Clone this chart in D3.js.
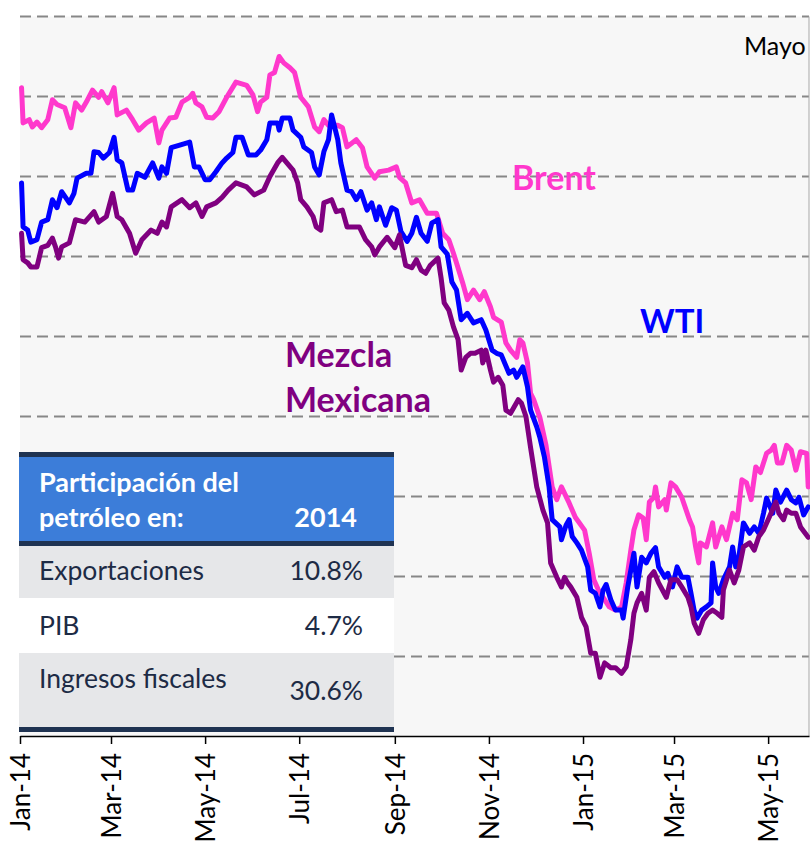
<!DOCTYPE html>
<html>
<head>
<meta charset="utf-8">
<script src="https://cdn.jsdelivr.net/npm/d3@7"></script>
<style>
  body { margin: 0; background: #fff; }
  text { font-family: Lato, "Open Sans", sans-serif; }
</style>
</head>
<body>
<div class="visholder"></div>
<script>
let width = 810,
    height = 844;

// precios diarios (USD por barril)
const brent = [
  ["2014-01-02",111.1],["2014-01-03",106.7],["2014-01-07",107.1],["2014-01-09",106.2],["2014-01-12",106.8],
  ["2014-01-15",106.1],["2014-01-19",107.1],["2014-01-22",109.6],["2014-01-25",109.0],["2014-01-30",108.6],
  ["2014-02-03",106.1],["2014-02-06",109.2],["2014-02-10",108.3],["2014-02-13",109.3],["2014-02-17",110.8],
  ["2014-02-21",109.9],["2014-02-23",110.6],["2014-02-27",109.2],["2014-03-03",111.1],["2014-03-05",107.7],
  ["2014-03-11",108.3],["2014-03-15",107.1],["2014-03-19",105.8],["2014-03-24",106.7],["2014-03-29",107.3],
  ["2014-04-01",104.2],["2014-04-03",105.8],["2014-04-08",107.3],["2014-04-12",107.4],["2014-04-16",109.3],
  ["2014-04-21",109.9],["2014-04-23",110.4],["2014-04-25",109.2],["2014-04-29",108.7],["2014-05-02",107.4],
  ["2014-05-06",107.3],["2014-05-10",108.1],["2014-05-15",109.9],["2014-05-21",111.8],["2014-05-28",111.4],
  ["2014-06-01",110.2],["2014-06-04",108.1],["2014-06-06",109.3],["2014-06-10",109.9],["2014-06-12",112.7],
  ["2014-06-15",113.0],["2014-06-18",115.0],["2014-06-21",114.2],["2014-06-25",113.6],["2014-06-28",113.0],
  ["2014-07-02",109.9],["2014-07-07",108.7],["2014-07-11",106.2],["2014-07-14",105.6],["2014-07-17",107.1],
  ["2014-07-20",106.4],["2014-07-26",106.4],["2014-07-29",106.1],["2014-08-01",103.7],["2014-08-07",104.6],
  ["2014-08-11",103.6],["2014-08-14",101.2],["2014-08-19",99.8],["2014-08-22",100.6],["2014-08-28",100.8],
  ["2014-09-02",101.2],["2014-09-04",99.9],["2014-09-08",99.2],["2014-09-12",96.7],["2014-09-17",97.1],
  ["2014-09-22",95.4],["2014-09-28",95.4],["2014-10-02",92.9],["2014-10-06",92.1],["2014-10-09",90.4],
  ["2014-10-11",89.2],["2014-10-15",86.7],["2014-10-18",84.6],["2014-10-22",85.8],["2014-10-26",84.6],
  ["2014-10-29",85.6],["2014-11-02",83.7],["2014-11-04",82.4],["2014-11-09",81.8],["2014-11-12",79.2],
  ["2014-11-15",78.3],["2014-11-19",77.4],["2014-11-21",79.6],["2014-11-23",79.2],["2014-11-26",76.7],
  ["2014-11-28",72.9],["2014-11-30",72.1],["2014-12-04",69.9],["2014-12-08",66.4],["2014-12-12",61.2],
  ["2014-12-15",59.6],["2014-12-18",61.2],["2014-12-23",59.2],["2014-12-27",57.4],["2015-01-02",55.8],
  ["2015-01-05",52.9],["2015-01-08",49.6],["2015-01-11",48.3],["2015-01-18",46.2],["2015-01-22",45.8],
  ["2015-01-26",46.2],["2015-01-29",49.2],["2015-02-01",53.3],["2015-02-03",55.8],["2015-02-06",57.7],
  ["2015-02-09",57.3],["2015-02-11",54.6],["2015-02-13",59.3],["2015-02-16",59.9],["2015-02-17",61.2],
  ["2015-02-19",58.7],["2015-02-23",59.6],["2015-02-24",58.3],["2015-02-27",61.7],["2015-03-02",61.2],
  ["2015-03-06",59.9],["2015-03-11",57.1],["2015-03-13",56.2],["2015-03-15",53.7],["2015-03-17",51.7],
  ["2015-03-18",54.2],["2015-03-22",53.7],["2015-03-26",56.7],["2015-03-28",53.7],["2015-04-01",56.2],
  ["2015-04-04",54.6],["2015-04-08",57.9],["2015-04-11",57.1],["2015-04-14",62.1],["2015-04-17",61.7],
  ["2015-04-20",59.6],["2015-04-23",63.7],["2015-04-26",63.0],["2015-04-30",65.4],["2015-05-03",65.8],
  ["2015-05-05",66.4],["2015-05-07",64.2],["2015-05-10",64.2],["2015-05-13",66.4],["2015-05-16",65.8],
  ["2015-05-19",63.3],["2015-05-22",65.6],["2015-05-26",65.4],["2015-05-27",61.2]
];

const wti = [
  ["2014-01-02",99.2],["2014-01-03",93.7],["2014-01-06",93.3],["2014-01-08",91.8],["2014-01-12",92.1],
  ["2014-01-15",94.3],["2014-01-19",94.6],["2014-01-22",97.1],["2014-01-25",96.1],["2014-01-28",98.1],
  ["2014-02-02",96.7],["2014-02-05",97.9],["2014-02-07",99.8],["2014-02-13",100.4],["2014-02-16",100.4],
  ["2014-02-18",103.1],["2014-02-21",103.0],["2014-02-24",102.3],["2014-02-28",103.0],["2014-03-03",104.9],
  ["2014-03-05",102.1],["2014-03-08",101.7],["2014-03-12",98.3],["2014-03-15",98.3],["2014-03-18",100.4],
  ["2014-03-23",99.9],["2014-03-28",101.7],["2014-04-01",99.8],["2014-04-03",101.2],["2014-04-06",100.4],
  ["2014-04-09",103.6],["2014-04-14",103.9],["2014-04-21",104.3],["2014-04-24",101.2],["2014-04-27",101.2],
  ["2014-05-01",99.6],["2014-05-04",99.6],["2014-05-08",100.6],["2014-05-12",101.7],["2014-05-15",102.3],
  ["2014-05-19",103.0],["2014-05-21",104.9],["2014-05-25",104.9],["2014-05-29",102.7],["2014-06-03",102.7],
  ["2014-06-06",103.3],["2014-06-10",104.6],["2014-06-12",106.7],["2014-06-17",106.7],["2014-06-18",105.8],
  ["2014-06-20",107.3],["2014-06-25",107.3],["2014-06-27",105.8],["2014-07-02",104.9],["2014-07-04",103.7],
  ["2014-07-09",103.0],["2014-07-11",101.2],["2014-07-14",100.2],["2014-07-17",103.1],["2014-07-20",104.6],
  ["2014-07-22",107.7],["2014-07-26",104.6],["2014-07-28",101.7],["2014-08-01",98.3],["2014-08-04",98.1],
  ["2014-08-07",97.1],["2014-08-10",98.1],["2014-08-14",95.8],["2014-08-17",96.7],["2014-08-20",94.6],
  ["2014-08-22",96.2],["2014-08-26",93.9],["2014-08-30",96.1],["2014-09-02",95.8],["2014-09-05",93.1],
  ["2014-09-09",91.9],["2014-09-12",92.9],["2014-09-15",94.9],["2014-09-18",92.9],["2014-09-22",91.9],
  ["2014-09-25",94.2],["2014-09-29",94.6],["2014-10-01",91.2],["2014-10-05",90.3],["2014-10-08",86.8],
  ["2014-10-11",85.8],["2014-10-14",82.1],["2014-10-18",82.9],["2014-10-22",81.7],["2014-10-27",82.1],
  ["2014-10-30",80.8],["2014-11-03",78.3],["2014-11-06",77.9],["2014-11-09",77.7],["2014-11-14",75.4],
  ["2014-11-17",75.8],["2014-11-19",74.9],["2014-11-23",76.2],["2014-11-26",73.7],["2014-11-28",70.8],
  ["2014-12-02",68.7],["2014-12-04",67.4],["2014-12-07",64.9],["2014-12-10",61.2],["2014-12-12",57.1],
  ["2014-12-17",56.2],["2014-12-18",54.6],["2014-12-21",56.4],["2014-12-23",57.1],["2014-12-25",55.0],
  ["2014-12-28",54.2],["2014-12-31",53.3],["2015-01-04",51.2],["2015-01-06",48.3],["2015-01-09",47.9],
  ["2015-01-12",46.2],["2015-01-14",48.3],["2015-01-16",49.0],["2015-01-19",47.1],["2015-01-22",45.8],
  ["2015-01-26",45.8],["2015-01-27",44.8],["2015-01-30",48.7],["2015-02-03",52.9],["2015-02-05",48.7],
  ["2015-02-08",52.4],["2015-02-11",51.7],["2015-02-14",52.9],["2015-02-17",53.6],["2015-02-19",51.2],
  ["2015-02-23",49.9],["2015-02-25",50.4],["2015-02-28",48.7],["2015-03-03",51.2],["2015-03-06",49.9],
  ["2015-03-10",49.9],["2015-03-12",47.9],["2015-03-14",45.8],["2015-03-16",44.8],["2015-03-19",45.8],
  ["2015-03-22",46.2],["2015-03-25",46.7],["2015-03-26",51.7],["2015-03-28",48.7],["2015-03-30",47.9],
  ["2015-04-02",49.6],["2015-04-06",51.2],["2015-04-08",53.7],["2015-04-10",51.2],["2015-04-12",52.4],
  ["2015-04-15",56.7],["2015-04-19",55.4],["2015-04-22",56.2],["2015-04-25",55.4],["2015-04-28",57.9],
  ["2015-04-30",59.8],["2015-05-04",57.9],["2015-05-06",60.8],["2015-05-09",59.3],["2015-05-13",60.8],
  ["2015-05-16",59.6],["2015-05-19",59.2],["2015-05-21",59.9],["2015-05-24",57.7],["2015-05-27",58.7]
];

const mezcla = [
  ["2014-01-02",92.9],["2014-01-03",89.6],["2014-01-06",89.2],["2014-01-08",88.7],["2014-01-12",88.7],
  ["2014-01-15",91.1],["2014-01-19",91.4],["2014-01-22",92.3],["2014-01-24",91.2],["2014-01-26",89.8],
  ["2014-01-28",91.2],["2014-02-02",91.7],["2014-02-06",94.6],["2014-02-12",94.3],["2014-02-18",95.6],
  ["2014-02-21",94.3],["2014-02-26",95.0],["2014-03-02",97.9],["2014-03-05",95.0],["2014-03-08",94.6],
  ["2014-03-13",92.9],["2014-03-17",90.4],["2014-03-21",92.1],["2014-03-27",93.3],["2014-03-31",92.9],
  ["2014-04-03",94.3],["2014-04-06",93.7],["2014-04-09",96.2],["2014-04-16",97.1],["2014-04-21",96.1],
  ["2014-04-25",96.7],["2014-04-29",95.0],["2014-05-02",96.2],["2014-05-08",96.7],["2014-05-12",97.4],
  ["2014-05-16",98.3],["2014-05-21",99.2],["2014-05-28",98.7],["2014-06-02",97.7],["2014-06-08",98.3],
  ["2014-06-12",100.0],["2014-06-17",101.7],["2014-06-20",102.4],["2014-06-23",101.7],["2014-06-27",100.8],
  ["2014-06-30",99.2],["2014-07-02",97.1],["2014-07-06",96.2],["2014-07-10",95.0],["2014-07-12",93.7],
  ["2014-07-15",93.3],["2014-07-17",96.7],["2014-07-22",97.1],["2014-07-25",95.6],["2014-07-29",95.8],
  ["2014-08-01",93.7],["2014-08-04",93.7],["2014-08-09",93.7],["2014-08-13",92.1],["2014-08-17",91.2],
  ["2014-08-19",90.2],["2014-08-22",91.2],["2014-08-27",92.4],["2014-09-01",91.1],["2014-09-04",92.7],
  ["2014-09-08",88.9],["2014-09-12",88.6],["2014-09-15",89.6],["2014-09-18",88.3],["2014-09-21",87.9],
  ["2014-09-24",88.9],["2014-09-29",89.8],["2014-10-01",87.3],["2014-10-03",84.2],["2014-10-06",83.3],
  ["2014-10-09",81.2],["2014-10-12",79.6],["2014-10-14",75.8],["2014-10-17",77.4],["2014-10-20",77.9],
  ["2014-10-23",77.9],["2014-10-27",78.3],["2014-10-28",76.7],["2014-10-30",78.3],["2014-11-02",75.8],
  ["2014-11-04",74.3],["2014-11-07",74.9],["2014-11-10",73.9],["2014-11-12",70.8],["2014-11-15",70.4],
  ["2014-11-20",72.1],["2014-11-22",71.7],["2014-11-25",70.0],["2014-11-28",66.1],["2014-12-02",61.2],
  ["2014-12-06",58.3],["2014-12-09",56.7],["2014-12-11",51.7],["2014-12-15",49.9],["2014-12-18",48.7],
  ["2014-12-20",49.9],["2014-12-22",49.2],["2014-12-24",48.7],["2014-12-28",47.4],["2014-12-31",44.9],
  ["2015-01-03",43.7],["2015-01-06",40.4],["2015-01-09",40.4],["2015-01-12",37.4],["2015-01-15",39.2],
  ["2015-01-19",38.6],["2015-01-22",38.6],["2015-01-26",37.9],["2015-01-29",38.7],["2015-02-01",42.1],
  ["2015-02-03",45.4],["2015-02-05",46.7],["2015-02-08",47.9],["2015-02-11",45.8],["2015-02-13",49.9],
  ["2015-02-16",50.6],["2015-02-19",49.2],["2015-02-24",47.4],["2015-02-27",49.6],["2015-03-03",49.6],
  ["2015-03-06",48.7],["2015-03-10",47.4],["2015-03-12",46.2],["2015-03-14",44.2],["2015-03-17",42.9],
  ["2015-03-20",44.6],["2015-03-23",45.4],["2015-03-26",45.8],["2015-03-29",45.4],["2015-04-01",44.9],
  ["2015-04-02",48.3],["2015-04-06",50.8],["2015-04-09",49.2],["2015-04-12",50.8],["2015-04-15",53.7],
  ["2015-04-19",54.2],["2015-04-22",53.3],["2015-04-25",55.0],["2015-04-28",55.8],["2015-05-01",57.1],
  ["2015-05-06",59.3],["2015-05-08",57.9],["2015-05-11",57.1],["2015-05-13",58.3],["2015-05-16",57.9],
  ["2015-05-19",57.9],["2015-05-22",56.2],["2015-05-27",54.9]
];

const seriesNames = ["Brent", "WTI", "Mezcla Mexicana"];
const colors = ["#ff38cc", "#0000ff", "#800080"];
const gridValues = [40, 50, 60, 70, 80, 90, 100, 110, 120];
const tickDates = ["2014-01-01", "2014-03-01", "2014-05-01", "2014-07-01", "2014-09-01",
                   "2014-11-01", "2015-01-01", "2015-03-01", "2015-05-01"];

const tableHeader = ["Participación del", "petróleo en:"];
const tableYear = "2014";
const tableRows = ["Exportaciones", "PIB", "Ingresos fiscales"];
const tableValues = ["10.8%", "4.7%", "30.6%"];

const parse = d3.timeParse("%Y-%m-%d");

var svg = d3.select(".visholder")
    .append("svg")
    .attr("width", width)
    .attr("height", height);

var x = d3.scaleTime()
    .domain([new Date(2014, 0, 1), new Date(2015, 4, 27, 12)])
    .range([20, 809]);

var y = d3.scaleLinear()
    .domain([30, 120])
    .range([736.5, 16.5]);

// fondo del area del grafico
svg.append("rect")
    .attr("x", x.range()[0])
    .attr("y", y(120))
    .attr("width", x.range()[1] - x.range()[0])
    .attr("height", y(30) - y(120))
    .attr("fill", "#f7f7f7");

svg.append("g")
    .selectAll("line")
    .data(gridValues)
    .enter()
    .append("line")
    .attr("x1", x.range()[0])
    .attr("x2", x.range()[1])
    .attr("y1", d => y(d))
    .attr("y2", d => y(d))
    .attr("stroke", "#878787")
    .attr("stroke-width", 2)
    .attr("stroke-dasharray", "11,6");

svg.append("line")
    .attr("x1", x.range()[1])
    .attr("x2", x.range()[1])
    .attr("y1", y(120))
    .attr("y2", y(30))
    .attr("stroke", "#a6a6a6")
    .attr("stroke-width", 1);

var line = d3.line()
    .x(d => x(parse(d[0])))
    .y(d => y(d[1]))
    .curve(d3.curveLinear);

[brent, wti, mezcla].forEach(function (s, i) {
    svg.append("path")
        .datum(s)
        .attr("class", "serie")
        .attr("d", line)
        .attr("fill", "none")
        .attr("stroke", colors[i])
        .attr("stroke-width", 5)
        .attr("stroke-linejoin", "round")
        .attr("stroke-linecap", "round");
});

// eje x
var xAxis = d3.axisBottom(x)
    .tickValues(tickDates.map(parse))
    .tickFormat(d3.timeFormat("%b-%y"))
    .tickSize(8)
    .tickSizeOuter(0);

var gx = svg.append("g")
    .attr("id", "x-axis")
    .attr("transform", "translate(0,736)")
    .call(xAxis);

gx.select(".domain").attr("stroke", "#000").attr("stroke-width", 1.5);
gx.selectAll(".tick line").attr("stroke", "#000").attr("stroke-width", 1.5);
gx.selectAll(".tick text")
    .attr("transform", "rotate(-90)")
    .attr("x", -17)
    .attr("y", 0)
    .attr("dy", "0.36em")
    .style("text-anchor", "end")
    .style("font-size", "26px")
    .style("font-family", "Lato, sans-serif")
    .attr("fill", "#000");

// etiquetas de series
svg.append("text")
    .attr("x", 512).attr("y", 190)
    .attr("fill", colors[0])
    .style("font-size", "34px").style("font-weight", "bold")
    .text(seriesNames[0]);

svg.append("text")
    .attr("x", 640).attr("y", 333)
    .attr("fill", colors[1])
    .style("font-size", "33px").style("font-weight", "bold")
    .text(seriesNames[1]);

var mx = svg.append("text")
    .attr("x", 285).attr("y", 367)
    .attr("fill", colors[2])
    .style("font-size", "34px").style("font-weight", "bold");
mx.append("tspan").attr("x", 285).text(seriesNames[2].split(" ")[0]);
mx.append("tspan").attr("x", 285).attr("dy", 45).text(seriesNames[2].split(" ")[1]);

svg.append("text")
    .attr("x", 744).attr("y", 55)
    .attr("fill", "#000")
    .style("font-size", "25px")
    .text("Mayo");

// tabla
var table = svg.append("g").attr("id", "tabla");
let tx = 19, tw = 375;

table.append("rect").attr("x", tx).attr("y", 452).attr("width", tw).attr("height", 5).attr("fill", "#1f3352");
table.append("rect").attr("x", tx).attr("y", 457).attr("width", tw).attr("height", 84).attr("fill", "#3c7dd9");
table.append("rect").attr("x", tx).attr("y", 541).attr("width", tw).attr("height", 5).attr("fill", "#1f3352");

const rowY = [546, 598, 653];
const rowH = [52, 55, 74];
const rowBase = [580, 635, 688];
const valBase = [580, 635, 700];
const rowFill = ["#e6e7e9", "#ffffff", "#e6e7e9"];

table.selectAll(".fila")
    .data(tableRows)
    .enter()
    .append("rect")
    .attr("class", "fila")
    .attr("x", tx)
    .attr("y", (d, i) => rowY[i])
    .attr("width", tw)
    .attr("height", (d, i) => rowH[i])
    .attr("fill", (d, i) => rowFill[i]);

table.append("rect").attr("x", tx).attr("y", 727).attr("width", tw).attr("height", 5).attr("fill", "#1f3352");

table.selectAll(".hdr")
    .data(tableHeader)
    .enter()
    .append("text")
    .attr("class", "hdr")
    .attr("x", 39)
    .attr("y", (d, i) => 492 + i * 35)
    .attr("fill", "#fff")
    .style("font-size", "27px").style("font-weight", "bold")
    .text(d => d);

table.append("text")
    .attr("x", 357).attr("y", 527)
    .attr("fill", "#fff")
    .style("text-anchor", "end")
    .style("font-size", "27px").style("font-weight", "bold")
    .text(tableYear);

table.selectAll(".rlab")
    .data(tableRows)
    .enter()
    .append("text")
    .attr("class", "rlab")
    .attr("x", 39)
    .attr("y", (d, i) => rowBase[i])
    .attr("fill", "#1d2b45")
    .style("font-size", "26.5px")
    .text(d => d);

table.selectAll(".rval")
    .data(tableValues)
    .enter()
    .append("text")
    .attr("class", "rval")
    .attr("x", 363)
    .attr("y", (d, i) => valBase[i])
    .attr("fill", "#1d2b45")
    .style("text-anchor", "end")
    .style("font-size", "26.5px")
    .text(d => d);
</script>
</body>
</html>
